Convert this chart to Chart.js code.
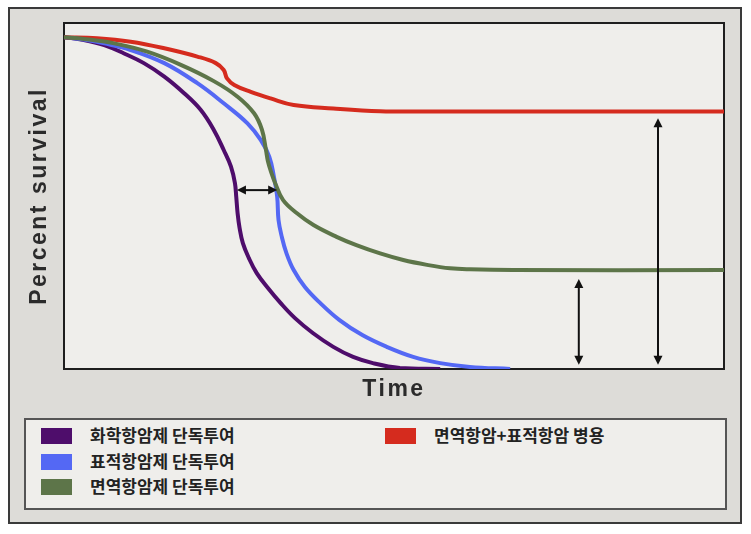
<!DOCTYPE html>
<html>
<head>
<meta charset="utf-8">
<script src="https://cdn.jsdelivr.net/npm/chart.js@4.4.0/dist/chart.umd.min.js"></script>
<style>
  html,body{margin:0;padding:0;background:#fff;}
  #wrap{position:relative;width:751px;height:534px;overflow:hidden;}
  #frame{position:absolute;left:8px;top:7px;width:734px;height:517px;box-sizing:border-box;
    background:#dddcd8;border:2px solid #3a3a3a;}
  #chart{position:absolute;left:0;top:0;}
  #legend{position:absolute;left:24px;top:418px;width:703px;height:92px;box-sizing:border-box;
    background:#efeeeb;border:2px solid #555;}
  .item{position:absolute;height:16px;font:bold 17px "Noto Sans CJK KR","Noto Sans",sans-serif;color:#222;white-space:nowrap;}
  .sw{position:absolute;left:0;top:0;width:31px;height:16px;}
  .lbl{position:absolute;left:49px;top:-4px;line-height:22px;}
</style>
</head>
<body>
<div id="wrap">
  <div id="frame"></div>
  <canvas id="chart" width="751" height="534"></canvas>
  <div id="legend"></div>
</div>
<script>
// survival curves, x = time (0-100), y = percent survival (0-100)
const chemoX  = [0, 3.0, 6.1, 9.1, 12.1, 15.2, 18.2, 20.7, 22.7, 24.2, 25.3, 25.9, 26.1, 26.3, 26.6, 27.1, 28.0, 29.2, 30.9, 32.8, 35.0, 37.7, 40.8, 43.8, 46.8, 50.9, 57];
const chemoY  = [95.9, 95.1, 93.6, 91.2, 88.4, 84.5, 79.7, 74.9, 69.1, 63.3, 58.5, 53.7, 49.7, 45.1, 40.8, 36.4, 32.1, 27.7, 23.4, 19.1, 14.7, 10.4, 6.4, 3.5, 1.7, 0.3, 0];

const targetX = [0, 3.0, 6.1, 10.1, 15.2, 20.2, 24.2, 27.8, 29.8, 31.1, 31.8, 32.3, 32.5, 33.0, 33.7, 34.8, 36.5, 38.8, 41.7, 45.2, 48.9, 52.9, 57.0, 61.5, 67.6];
const targetY = [95.9, 95.2, 94.1, 92.2, 88.4, 82.6, 76.8, 71.0, 66.2, 61.4, 55.6, 49.8, 43.1, 38.2, 33.5, 28.6, 23.7, 19.1, 14.2, 9.8, 6.4, 3.5, 1.7, 0.6, 0];

const immunoX = [0, 3.0, 7.6, 12.6, 17.7, 22.7, 26.3, 28.8, 30.0, 30.6, 30.9, 31.4, 32.0, 33.2, 35.3, 37.8, 41.3, 44.3, 47.9, 51.4, 55.0, 58.5, 61.5, 68, 100];
const immunoY = [95.9, 95.4, 94.1, 91.7, 87.9, 83.2, 78.7, 73.9, 69.1, 63.3, 60.0, 56.8, 53.7, 48.8, 45.0, 41.6, 38.2, 35.8, 33.4, 31.5, 30.1, 29.1, 28.8, 28.6, 28.6];

const comboX  = [0, 5.0, 10.1, 15.2, 20.2, 23.0, 24.2, 24.7, 25.8, 28.3, 31.3, 34.8, 40.8, 47.9, 55, 62, 100];
const comboY  = [95.9, 95.6, 94.6, 92.7, 90.3, 88.4, 86.4, 84.0, 82.1, 80.1, 78.2, 76.3, 75.3, 74.5, 74.4, 74.4, 74.4];

// double-headed arrows: [x1, y1, x2, y2] in data units
const arrows = [
  [26.2, 51.7, 32.3, 51.7],
  [78.0, 26.0, 78.0, 1.2],
  [90.0, 72.5, 90.0, 1.2]
];

const labels = ['화학항암제 단독투여', '표적항암제 단독투여', '면역항암제 단독투여', '면역항암+표적항암 병용'];
const colors = ['#4e0d6b', '#5468f4', '#5d7549', '#d52b1e'];

function pts(xs, ys){ return xs.map((x,i)=>({x:x, y:ys[i]})); }

const series = [pts(chemoX,chemoY), pts(targetX,targetY), pts(immunoX,immunoY), pts(comboX,comboY)];
const drawOrder = [3, 2, 0, 1];

const plotBox = {
  id:'plotBox',
  beforeDraw(chart){
    const {ctx, chartArea:a} = chart;
    ctx.save();
    ctx.fillStyle = '#efeeeb';
    ctx.fillRect(a.left, a.top, a.right-a.left, a.bottom-a.top);
    ctx.restore();
    ctx.letterSpacing = '2.5px';
  },
  beforeDatasetsDraw(chart){
    const {ctx, chartArea:a} = chart;
    ctx.save();
    ctx.strokeStyle = '#1e1e1e';
    ctx.lineWidth = 2;
    ctx.strokeRect(a.left, a.top, a.right-a.left, a.bottom-a.top);
    ctx.restore();
  }
};

function head(ctx, x, y, ang){
  const L = 9, W = 4.5;
  ctx.beginPath();
  ctx.moveTo(x, y);
  ctx.lineTo(x - L*Math.cos(ang) + W*Math.sin(ang), y - L*Math.sin(ang) - W*Math.cos(ang));
  ctx.lineTo(x - L*Math.cos(ang) - W*Math.sin(ang), y - L*Math.sin(ang) + W*Math.cos(ang));
  ctx.closePath();
  ctx.fill();
}

const arrowPlugin = {
  id:'arrows',
  afterDatasetsDraw(chart){
    const {ctx, scales:{x, y}} = chart;
    ctx.save();
    ctx.strokeStyle = '#111';
    ctx.fillStyle = '#111';
    ctx.lineWidth = 2;
    for(const a of arrows){
      const x1 = x.getPixelForValue(a[0]), y1 = y.getPixelForValue(a[1]);
      const x2 = x.getPixelForValue(a[2]), y2 = y.getPixelForValue(a[3]);
      const ang = Math.atan2(y2-y1, x2-x1);
      ctx.beginPath();
      ctx.moveTo(x1 + 6*Math.cos(ang), y1 + 6*Math.sin(ang));
      ctx.lineTo(x2 - 6*Math.cos(ang), y2 - 6*Math.sin(ang));
      ctx.stroke();
      head(ctx, x2, y2, ang);
      head(ctx, x1, y1, ang + Math.PI);
    }
    ctx.restore();
  }
};

const titleFont = {family:'"Liberation Sans", Arial, sans-serif', size:23, weight:'bold'};

new Chart(document.getElementById('chart'), {
  type:'line',
  data:{
    datasets: series.map((d,i)=>({
      label: labels[i],
      data: d,
      borderColor: colors[i],
      borderWidth: 4,
      pointRadius: 0,
      fill: false,
      tension: 0.4,
      order: drawOrder[i]
    }))
  },
  options:{
    responsive:false,
    animation:false,
    devicePixelRatio:1,
    layout:{padding:{left:22.2, top:23, right:27, bottom:126.2}},
    plugins:{legend:{display:false}, tooltip:{enabled:false}},
    scales:{
      x:{type:'linear', min:0, max:100,
         ticks:{display:false}, grid:{display:false, drawTicks:false}, border:{display:false},
         title:{display:true, text:'Time', color:'#2b2b2b', font:titleFont, padding:{top:7.2, bottom:4}}},
      y:{type:'linear', min:0, max:100,
         ticks:{display:false}, grid:{display:false, drawTicks:false}, border:{display:false},
         title:{display:true, text:'Percent survival', color:'#2b2b2b', font:titleFont, padding:{top:4, bottom:10.2}}}
    }
  },
  plugins:[plotBox, arrowPlugin]
});

// legend (two columns) built from the same labels/colors
const legendPos = [[15,8],[15,33.5],[15,59],[359,8]];
const legendEl = document.getElementById('legend');
labels.forEach((t,i)=>{
  const it = document.createElement('div');
  it.className = 'item';
  it.style.left = legendPos[i][0] + 'px';
  it.style.top = legendPos[i][1] + 'px';
  it.innerHTML = `<div class="sw" style="background:${colors[i]}"></div><div class="lbl">${t}</div>`;
  legendEl.appendChild(it);
});
</script>
</body>
</html>
